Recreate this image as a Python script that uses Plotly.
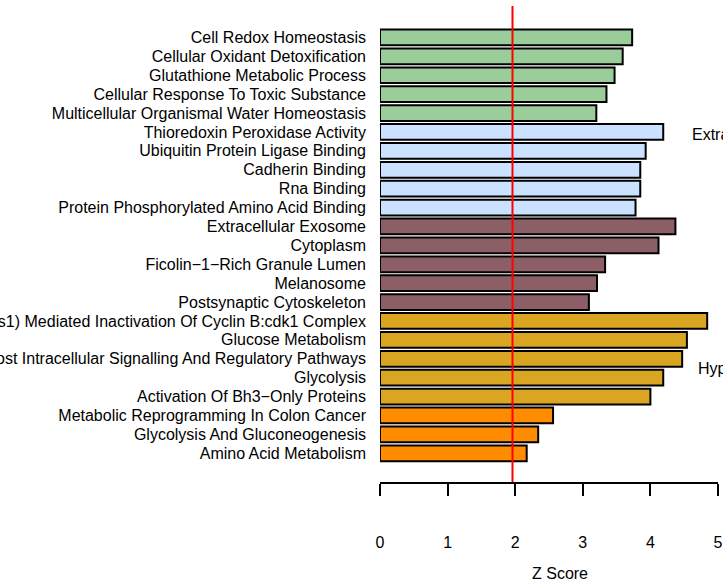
import plotly.graph_objects as go

terms = [
    "Cell Redox Homeostasis",
    "Cellular Oxidant Detoxification",
    "Glutathione Metabolic Process",
    "Cellular Response To Toxic Substance",
    "Multicellular Organismal Water Homeostasis",
    "Thioredoxin Peroxidase Activity",
    "Ubiquitin Protein Ligase Binding",
    "Cadherin Binding",
    "Rna Binding",
    "Protein Phosphorylated Amino Acid Binding",
    "Extracellular Exosome",
    "Cytoplasm",
    "Ficolin\u22121\u2212Rich Granule Lumen",
    "Melanosome",
    "Postsynaptic Cytoskeleton",
    "Chk1/Chk2(Cds1) Mediated Inactivation Of Cyclin B:cdk1 Complex",
    "Glucose Metabolism",
    "Modulation Of Host Intracellular Signalling And Regulatory Pathways",
    "Glycolysis",
    "Activation Of Bh3\u2212Only Proteins",
    "Metabolic Reprogramming In Colon Cancer",
    "Glycolysis And Gluconeogenesis",
    "Amino Acid Metabolism",
]
zscores = [3.73, 3.59, 3.47, 3.35, 3.20,
           4.19, 3.93, 3.85, 3.85, 3.78,
           4.37, 4.12, 3.33, 3.21, 3.09,
           4.84, 4.54, 4.47, 4.19, 4.00,
           2.56, 2.34, 2.17]
groups = ["BP"] * 5 + ["MF"] * 5 + ["CC"] * 5 + ["Reactome"] * 5 + ["WikiPathways"] * 3
group_colors = {
    "BP": "#9BCD9B",
    "MF": "#CAE1FF",
    "CC": "#8B5F65",
    "Reactome": "#DAA520",
    "WikiPathways": "#FF8C00",
}
threshold = 1.96
x_ticks = [0, 1, 2, 3, 4, 5]
side_labels = ["Extracellular Region", "Hypoxia Response"]
side_label_pos = [(4.58, 5.13), (4.68, 17.5)]

fig = go.Figure()
fig.add_trace(go.Bar(
    y=terms,
    x=zscores,
    orientation="h",
    marker=dict(color=[group_colors[g] for g in groups],
                line=dict(color="black", width=2)),
    showlegend=False,
    hoverinfo="x+y",
))

fig.add_shape(type="line", xref="x", yref="paper",
              x0=threshold, x1=threshold, y0=0, y1=1.0485,
              line=dict(color="#FF0000", width=2), layer="above")

for txt, (xx, yy) in zip(side_labels, side_label_pos):
    fig.add_annotation(text=txt, x=xx, y=yy, xref="x", yref="y",
                       xanchor="left", yanchor="middle", showarrow=False,
                       font=dict(size=16, color="black"))

fig.add_annotation(text="Z Score", x=2.66, y=-0.2025, xref="x", yref="paper",
                   xanchor="center", yanchor="middle", showarrow=False,
                   font=dict(size=16, color="black"))

fig.update_layout(
    width=723, height=584,
    margin=dict(l=380, r=5, t=28, b=102, autoexpand=False),
    paper_bgcolor="white", plot_bgcolor="white",
    font=dict(family="Liberation Sans, Arial, sans-serif", size=16, color="black"),
    bargap=0.167,
    xaxis=dict(range=[0, 5], tickvals=x_ticks, ticktext=[str(t) for t in x_ticks],
               showgrid=False, zeroline=False, showline=True, linecolor="black",
               linewidth=2, ticks="outside", ticklen=12, tickwidth=2,
               tickcolor="black", ticklabelstandoff=33,
               tickfont=dict(size=16)),
    yaxis=dict(type="category", categoryorder="array", categoryarray=terms,
               tickmode="array", tickvals=terms, ticktext=terms,
               range=[23.52, -0.5], showgrid=False, zeroline=False,
               showline=False, ticks="", ticklabelstandoff=13,
               tickfont=dict(size=16)),
)

fig.write_html("out.html",
               config={"displayModeBar": False},
               post_script="document.body.style.margin='0';document.body.style.overflow='hidden';")
